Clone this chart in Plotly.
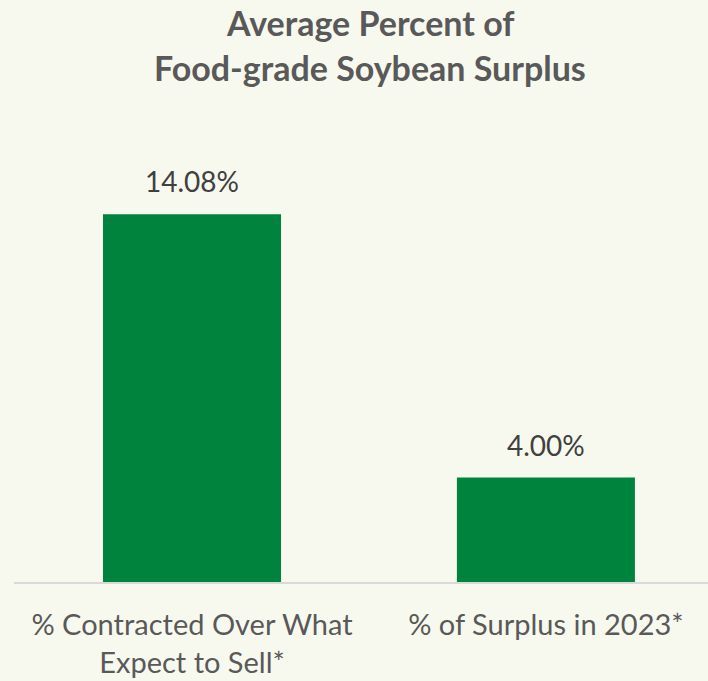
import plotly.graph_objects as go

categories = ["% Contracted Over What<br>Expect to Sell*", "% of Surplus in 2023*"]
values = [14.08, 4.00]
value_labels = ["14.08%", "4.00%"]
title_lines = ["Average Percent of", "Food-grade Soybean Surplus"]

BG = "#F8F9EE"
GREEN = "#00843D"
FONT = "Lato"

fig = go.Figure()
fig.add_trace(go.Bar(
    x=categories, y=values, marker=dict(color=GREEN, line=dict(width=0)),
    width=0.503, hoverinfo="skip",
))

for c, v, t in zip(categories, values, value_labels):
    fig.add_annotation(x=c, y=v, text=t, showarrow=False, yanchor="bottom",
                       yshift=14, font=dict(family=FONT, size=28, color="#404040"))

# title as two lines (plot area top at 164px, height 418px)
title_y_px = [22, 68]
for line, ypx in zip(title_lines, title_y_px):
    fig.add_annotation(text="<b>" + line + "</b>", xref="paper", yref="paper",
                       x=(370 - 14) / 694, y=1 + (164 - ypx) / 418,
                       xanchor="center", yanchor="middle", showarrow=False,
                       font=dict(family=FONT, size=34, color="#595959"))

fig.update_layout(
    width=708, height=681,
    paper_bgcolor=BG, plot_bgcolor=BG,
    margin=dict(l=14, r=0, t=164, b=99),
    showlegend=False,
    xaxis=dict(range=[-0.503, 1.458], showline=True, linecolor="#D9D9D9", linewidth=2,
               ticks="", tickfont=dict(family=FONT, size=29, color="#595959"),
               ticklabelstandoff=16, showgrid=False, fixedrange=True),
    yaxis=dict(range=[0, 16], visible=False, showgrid=False, zeroline=False),
)

fig.write_html("out.html")
